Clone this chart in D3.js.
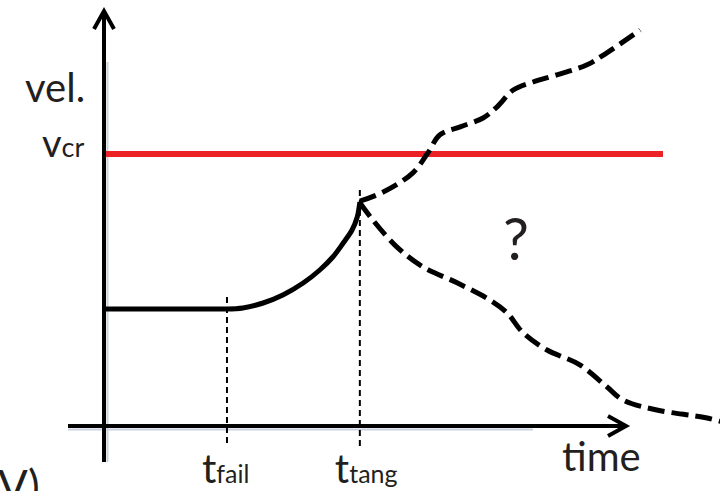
<!DOCTYPE html>
<html>
<head>
<meta charset="utf-8">
<script src="https://cdn.jsdelivr.net/npm/d3@7"></script>
<style>
  body { margin: 0; background: #fff; }
  text { font-family: Lato, "Open Sans", sans-serif; fill: #231f20; }
</style>
</head>
<body>
<div id="chart"></div>
<script>
const width = 720;
const height = 491;

// chart units: time 0..10, velocity 0..10
const tFail = 2.365;
const tTang = 4.92;
const vPlateau = 2.925;
const vCr = 6.8;
const tEndRed = 10.75;

// rising part after failure
const riseT = [2.365, 2.67, 3.06, 3.44, 3.83, 4.15, 4.4, 4.6, 4.77, 4.87, 4.92];
const riseV = [2.925, 2.95, 3.075, 3.275, 3.575, 3.9, 4.225, 4.575, 4.9, 5.225, 5.6];

// possible future: up
const upT = [4.92, 5.37, 5.94, 6.23, 6.46, 6.85, 7.29, 7.56, 7.87, 8.25, 8.71, 9.29, 9.67, 10.31];
const upV = [5.62, 5.85, 6.33, 6.83, 7.28, 7.48, 7.7, 7.98, 8.4, 8.6, 8.78, 9.03, 9.33, 9.9];

// possible future: down
const downT = [4.92, 5.17, 5.63, 6.13, 6.79, 7.42, 7.75, 8.06, 8.52, 9.15, 9.67, 9.98, 10.63, 11.6, 12.1];
const downV = [5.58, 5.15, 4.48, 3.98, 3.58, 3.15, 2.83, 2.33, 1.9, 1.53, 0.98, 0.65, 0.4, 0.2, 0.02];

const tickLabels = [
  { t: tFail, main: "t", sub: "fail" },
  { t: tTang, main: "t", sub: "tang" }
];

const svg = d3.select("#chart").append("svg")
  .attr("width", width)
  .attr("height", height);

const x = d3.scaleLinear().domain([0, 10]).range([104, 624]);
const y = d3.scaleLinear().domain([0, 10]).range([426, 26]);

const ink = "#000";

// faint shadows next to the axes
svg.append("line")
  .attr("x1", x(0) + 3.5).attr("x2", x(0) + 3.5)
  .attr("y1", 62).attr("y2", 462)
  .attr("stroke", "#c9d2de").attr("stroke-width", 2);
svg.append("line")
  .attr("x1", 68).attr("x2", 533)
  .attr("y1", y(0) + 3.5).attr("y2", y(0) + 3.5)
  .attr("stroke", "#c9d2de").attr("stroke-width", 2);

// axes
svg.append("line")
  .attr("x1", x(0)).attr("x2", x(0))
  .attr("y1", 11).attr("y2", 462)
  .attr("stroke", ink).attr("stroke-width", 4);
svg.append("path")
  .attr("d", `M${x(0) - 10},29 L${x(0)},11 L${x(0) + 10},29`)
  .attr("fill", "none").attr("stroke", ink).attr("stroke-width", 4)
  .attr("stroke-linejoin", "miter");

svg.append("line")
  .attr("x1", 68).attr("x2", 626)
  .attr("y1", y(0)).attr("y2", y(0))
  .attr("stroke", ink).attr("stroke-width", 4);
svg.append("path")
  .attr("d", `M608,${y(0) - 10} L626,${y(0)} L608,${y(0) + 10}`)
  .attr("fill", "none").attr("stroke", ink).attr("stroke-width", 4);

// thin dashed markers
svg.selectAll(".marker")
  .data([{ t: tFail, v: vPlateau + 0.3 }, { t: tTang, v: 5.9 }])
  .enter()
  .append("line")
  .attr("class", "marker")
  .attr("x1", d => x(d.t)).attr("x2", d => x(d.t))
  .attr("y1", d => y(d.v)).attr("y2", 447)
  .attr("stroke", ink).attr("stroke-width", 2)
  .attr("stroke-dasharray", "6,4");

// critical velocity
svg.append("line")
  .attr("x1", x(0) + 2).attr("x2", x(tEndRed))
  .attr("y1", y(vCr)).attr("y2", y(vCr))
  .attr("stroke", "#ed2227").attr("stroke-width", 6);

const line = d3.line()
  .x(d => x(d[0]))
  .y(d => y(d[1]));

// plateau + rise
svg.append("path")
  .attr("d", line([[0, vPlateau], [tFail, vPlateau]]))
  .attr("fill", "none").attr("stroke", ink).attr("stroke-width", 5);
svg.append("path")
  .attr("d", line.curve(d3.curveCatmullRom.alpha(0.5))(d3.zip(riseT, riseV)))
  .attr("fill", "none").attr("stroke", ink).attr("stroke-width", 5);

const dashed = d3.line()
  .x(d => x(d[0]))
  .y(d => y(d[1]))
  .curve(d3.curveCatmullRom.alpha(0.5));

[d3.zip(upT, upV), d3.zip(downT, downV)].forEach(pts => {
  svg.append("path")
    .attr("d", dashed(pts))
    .attr("fill", "none").attr("stroke", ink).attr("stroke-width", 5)
    .attr("stroke-dasharray", "17,7");
});

// labels
svg.append("text").attr("x", 25).attr("y", 102)
  .attr("font-size", 40).text("vel.");

const vcr = svg.append("text").attr("x", 42).attr("y", 157);
vcr.append("tspan").attr("font-size", 38).text("v");
vcr.append("tspan").attr("font-size", 27).text("cr");

svg.selectAll(".tlab")
  .data(tickLabels)
  .enter()
  .append("text")
  .attr("class", "tlab")
  .attr("x", d => x(d.t) - 25)
  .attr("y", 483)
  .each(function (d) {
    const s = d3.select(this);
    s.append("tspan").attr("font-size", 40).text(d.main);
    s.append("tspan").attr("font-size", 25).text(d.sub);
  });

svg.append("text").attr("x", 562).attr("y", 471)
  .attr("font-size", 40).text("time");

svg.append("text").attr("x", 503).attr("y", 260)
  .attr("font-size", 58).text("?");

svg.append("text").attr("x", -2).attr("y", 502)
  .attr("font-size", 44).text("V)");
</script>
</body>
</html>
